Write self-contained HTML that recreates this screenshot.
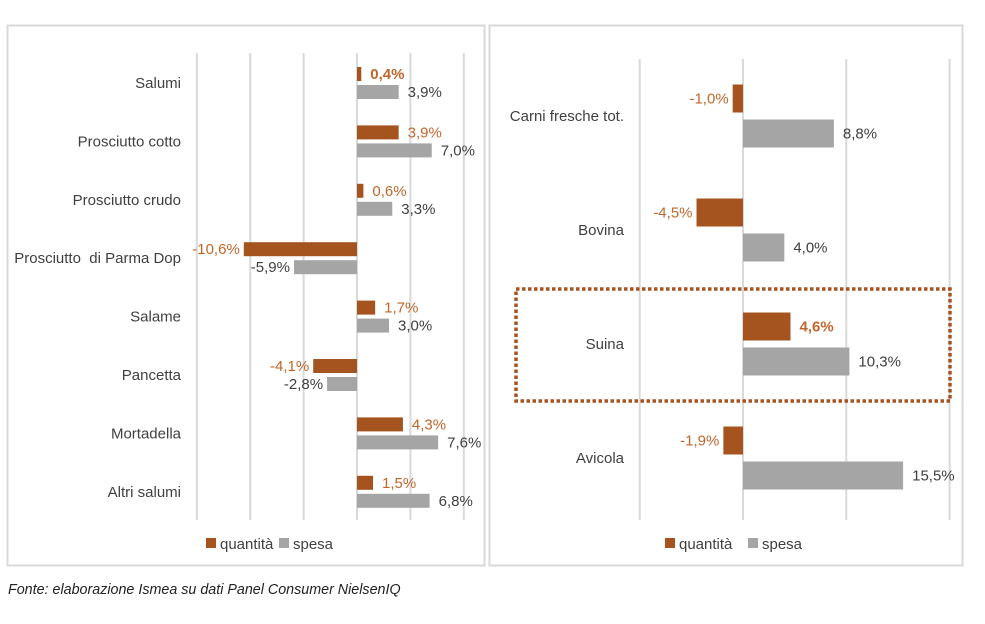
<!DOCTYPE html>
<html><head><meta charset="utf-8"><style>
body{margin:0;background:#fff;}
svg{font-family:"Liberation Sans",sans-serif;}
text{white-space:pre;}
</style></head><body>
<svg width="985" height="619" viewBox="0 0 985 619">
<rect x="7.5" y="25.5" width="477" height="540" fill="#fff" stroke="#d9d9d9" stroke-width="2"/>
<rect x="489.5" y="25.5" width="473" height="540" fill="#fff" stroke="#d9d9d9" stroke-width="2"/>
<g id="L"></g><g id="R"></g>
<rect x="516" y="289" width="434" height="112" fill="none" stroke="#a5541f" stroke-width="3.5" stroke-dasharray="3.5,2.5"/>
<text x="8" y="594" font-size="14.3" font-style="italic" fill="#222">Fonte: elaborazione Ismea su dati Panel Consumer NielsenIQ</text>
</svg>
<script>
const leftCats=["Salumi","Prosciutto cotto","Prosciutto crudo","Prosciutto  di Parma Dop","Salame","Pancetta","Mortadella","Altri salumi"];
const leftQty=[0.4,3.9,0.6,-10.6,1.7,-4.1,4.3,1.5];
const leftSpesa=[3.9,7.0,3.3,-5.9,3.0,-2.8,7.6,6.8];
const leftTicks=[-15,-10,-5,0,5,10];
const rightCats=["Carni fresche tot.","Bovina","Suina","Avicola"];
const rightQty=[-1.0,-4.5,4.6,-1.9];
const rightSpesa=[8.8,4.0,10.3,15.5];
const rightTicks=[-10,0,10,20];
const NS="http://www.w3.org/2000/svg";
function mk(p,t,a,txt){const e=document.createElementNS(NS,t);for(const k in a)e.setAttribute(k,a[k]);if(txt!==undefined)e.textContent=txt;p.appendChild(e);return e;}
function fmt(v){return v.toFixed(1).replace('.',',')+'%';}
function draw(g,cats,q,s,ticks,o){
  const x=v=>o.x0+v*o.k;
  ticks.forEach(t=>{const l=mk(g,'line',{x1:x(t),x2:x(t),y1:o.gt,y2:o.gb,stroke:'#d9d9d9','stroke-width':2});
    
    });
  cats.forEach((c,i)=>{
    const cy=o.c0+i*o.p;
    const lab=mk(g,'text',{x:o.lx,y:cy+5,'text-anchor':'end','font-size':15,fill:'#404040'},c);
    
    
    [[q[i],'#a5541f','#c0662a',cy-o.g/2-o.h],[s[i],'#a5a5a5','#404040',cy+o.g/2]].forEach((d,j)=>{
      const v=d[0],xa=Math.min(x(0),x(v)),w=Math.abs(x(v)-x(0));
      const b=mk(g,'rect',{x:xa,y:d[3],width:w,height:o.h,fill:d[1]});
      
      
      const bold=o.bold.includes(i)&&j==0;
      const t=mk(g,'text',{x:v>=0?x(v)+9:x(v)-4,y:d[3]+o.h/2+5,'text-anchor':v>=0?'start':'end','font-size':15,fill:d[2],'font-weight':bold?'bold':'normal'},fmt(v));
      
      
    });
  });
  [['quantità','#a5541f',o.lg[0]],['spesa','#a5a5a5',o.lg[1]]].forEach(d=>{
    const r=mk(g,'rect',{x:d[2],y:538,width:10,height:10,fill:d[1]});
    
    
    const t=mk(g,'text',{x:d[2]+14,y:549,'font-size':15,fill:'#404040'},d[0]);
    
    
  });
}
draw(document.getElementById('L'),leftCats,leftQty,leftSpesa,leftTicks,{x0:357,k:10.68,gt:53,gb:520,c0:83,p:58.4,h:14,g:4,lx:181,lg:[206,279],bold:[0]});
draw(document.getElementById('R'),rightCats,rightQty,rightSpesa,rightTicks,{x0:743,k:10.33,gt:59,gb:520,c0:116,p:114,h:28,g:7,lx:624,lg:[665,748],bold:[2]});
</script>
</body></html>
